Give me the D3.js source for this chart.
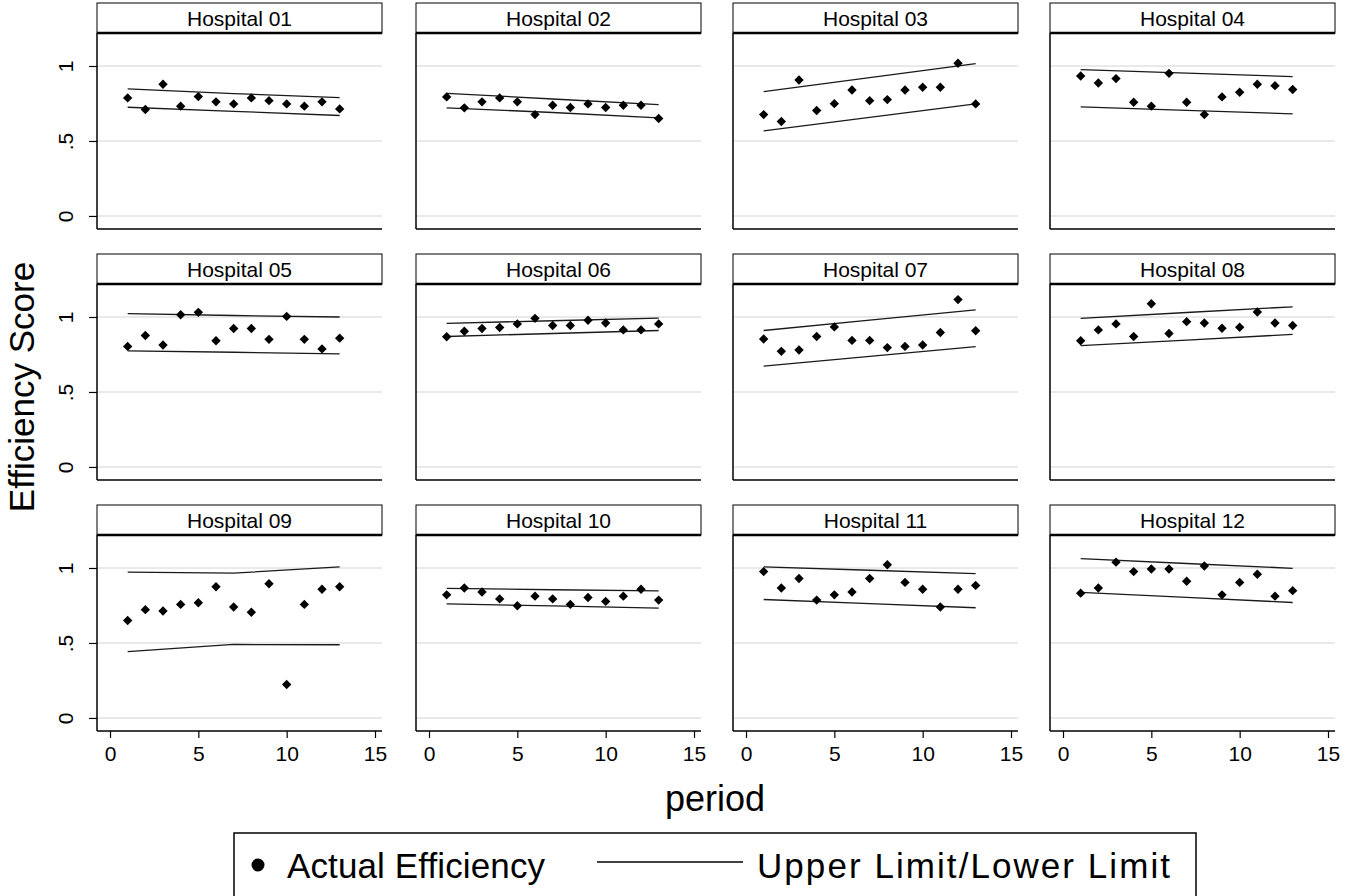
<!DOCTYPE html>
<html>
<head>
<meta charset="utf-8">
<script src="https://cdn.jsdelivr.net/npm/d3@7"></script>
<style>
  body { margin: 0; background: #fff; }
  svg { font-family: 'Liberation Sans', Arial, sans-serif; display: block; }
</style>
</head>
<body>
<svg></svg>
<script>
// hospitals in the order of the facets
let hospitals = ['Hospital 01', 'Hospital 02', 'Hospital 03', 'Hospital 04',
                 'Hospital 05', 'Hospital 06', 'Hospital 07', 'Hospital 08',
                 'Hospital 09', 'Hospital 10', 'Hospital 11', 'Hospital 12'];

let periods = [1, 2, 3, 4, 5, 6, 7, 8, 9, 10, 11, 12, 13];

// actual efficiency, one row per hospital
let efficiency = [
  [0.787, 0.710, 0.878, 0.732, 0.796, 0.761, 0.747, 0.787, 0.769, 0.747, 0.732, 0.761, 0.714],
  [0.794, 0.721, 0.761, 0.787, 0.761, 0.676, 0.738, 0.723, 0.747, 0.723, 0.738, 0.738, 0.650],
  [0.676, 0.630, 0.907, 0.703, 0.749, 0.840, 0.769, 0.776, 0.840, 0.858, 0.858, 1.018, 0.747],
  [0.933, 0.887, 0.916, 0.758, 0.732, 0.951, 0.758, 0.676, 0.794, 0.825, 0.878, 0.869, 0.843],
  [0.804, 0.877, 0.813, 1.015, 1.031, 0.842, 0.923, 0.923, 0.851, 1.004, 0.851, 0.787, 0.859],
  [0.868, 0.905, 0.923, 0.930, 0.954, 0.991, 0.943, 0.943, 0.978, 0.960, 0.914, 0.914, 0.954],
  [0.853, 0.771, 0.780, 0.870, 0.934, 0.844, 0.844, 0.796, 0.804, 0.813, 0.897, 1.116, 0.908],
  [0.842, 0.914, 0.954, 0.870, 1.088, 0.890, 0.969, 0.960, 0.925, 0.932, 1.033, 0.960, 0.943],
  [0.650, 0.722, 0.713, 0.757, 0.768, 0.875, 0.740, 0.705, 0.895, 0.223, 0.757, 0.858, 0.875],
  [0.821, 0.867, 0.840, 0.794, 0.748, 0.812, 0.794, 0.757, 0.803, 0.777, 0.812, 0.858, 0.786],
  [0.976, 0.867, 0.930, 0.786, 0.821, 0.840, 0.930, 1.022, 0.904, 0.858, 0.740, 0.858, 0.884],
  [0.832, 0.867, 1.039, 0.976, 0.993, 0.993, 0.912, 1.013, 0.821, 0.904, 0.958, 0.812, 0.849]
];

// control limits read at periods 1, 7 and 13
let limitPeriods = [1, 7, 13];
let upperLimit = [
  [0.847, 0.816, 0.789], [0.818, 0.780, 0.743], [0.829, 0.922, 1.016], [0.976, 0.952, 0.929],
  [1.022, 1.010, 1.000], [0.958, 0.975, 0.993], [0.910, 0.979, 1.048], [0.991, 1.030, 1.068],
  [0.972, 0.966, 1.007], [0.864, 0.855, 0.847], [1.007, 0.985, 0.963], [1.063, 1.030, 0.998]
];
let lowerLimit = [
  [0.725, 0.698, 0.670], [0.721, 0.690, 0.654], [0.568, 0.657, 0.747], [0.727, 0.704, 0.681],
  [0.774, 0.765, 0.754], [0.870, 0.890, 0.910], [0.673, 0.738, 0.802], [0.809, 0.846, 0.884],
  [0.442, 0.490, 0.488], [0.761, 0.747, 0.733], [0.790, 0.763, 0.735], [0.838, 0.804, 0.770]
];

let xTicks = [0, 5, 10, 15];
let yTicks = [0, 0.5, 1];
let yTickLabels = ['0', '.5', '1'];

let width = 1357;
let height = 896;
let panelW = 285;
let headerH = 30;
let plotH = 196;
let colX = [97, 416, 733, 1050];
let rowY = [3, 254, 505];

let svg = d3.select('svg')
            .attr('width', width)
            .attr('height', height);

svg.append('rect')
    .attr('width', width)
    .attr('height', height)
    .attr('fill', '#fff');

let xScale = d3.scaleLinear()
                .domain([-0.736, 15.396])
                .range([0, panelW]);

let yScale = d3.scaleLinear()
                .domain([-0.087, 1.22])
                .range([plotH, 0]);

let diamond = d3.symbol().type(d3.symbolSquare).size(44);

let limitLine = d3.line()
                  .x((d, i) => xScale(limitPeriods[i]))
                  .y(d => yScale(d));

hospitals.forEach((name, h) => {
  let col = h % 4;
  let row = Math.floor(h / 4);
  let g = svg.append('g')
             .attr('transform', `translate(${colX[col]},${rowY[row]})`);

  // strip header
  g.append('rect')
      .attr('x', 0)
      .attr('y', 0)
      .attr('width', panelW)
      .attr('height', headerH)
      .attr('fill', '#fff')
      .attr('stroke', '#000')
      .attr('stroke-width', 1);

  g.append('line')
      .attr('x1', 0)
      .attr('x2', panelW)
      .attr('y1', headerH)
      .attr('y2', headerH)
      .attr('stroke', '#000')
      .attr('stroke-width', 2.5);

  g.append('text')
      .attr('x', panelW / 2)
      .attr('y', 23)
      .attr('text-anchor', 'middle')
      .style('font-size', '21px')
      .text(name);

  let plot = g.append('g')
              .attr('transform', `translate(0,${headerH})`);

  plot.selectAll('.grid')
      .data(yTicks)
      .enter()
      .append('line')
      .attr('class', 'grid')
      .attr('x1', 0)
      .attr('x2', panelW)
      .attr('y1', d => yScale(d))
      .attr('y2', d => yScale(d))
      .attr('stroke', '#e2e2e2')
      .attr('stroke-width', 1.5);

  // left and bottom axis lines
  let yAxis = d3.axisLeft(yScale)
                .tickValues(col === 0 ? yTicks : [])
                .tickSize(8)
                .tickFormat((d, i) => yTickLabels[i]);

  let yAxisG = plot.append('g').call(yAxis);
  yAxisG.select('.domain')
        .attr('d', `M0,0V${plotH}`)
        .attr('stroke-width', 1.5);
  yAxisG.selectAll('.tick line').attr('stroke-width', 1.2);
  yAxisG.selectAll('.tick text')
        .attr('x', 0)
        .attr('dy', 0)
        .attr('transform', 'translate(-24,0) rotate(-90)')
        .attr('text-anchor', 'middle')
        .style('font-size', '21px')
        .style('font-family', "'Liberation Sans', Arial, sans-serif");

  let xAxis = d3.axisBottom(xScale)
                .tickValues(row === 2 ? xTicks : [])
                .tickSize(7)
                .tickPadding(8);

  let xAxisG = plot.append('g')
                   .attr('transform', `translate(0,${plotH})`)
                   .call(xAxis);
  xAxisG.select('.domain')
        .attr('d', `M0,0H${panelW}`)
        .attr('stroke-width', 1.5);
  xAxisG.selectAll('.tick line').attr('stroke-width', 1.2);
  xAxisG.selectAll('.tick text')
        .style('font-size', '21px')
        .style('font-family', "'Liberation Sans', Arial, sans-serif");

  // limits
  [upperLimit[h], lowerLimit[h]].forEach(vals => {
    plot.append('path')
        .datum(vals)
        .attr('d', limitLine)
        .attr('fill', 'none')
        .attr('stroke', '#1a1a1a')
        .attr('stroke-width', 1.3);
  });

  plot.selectAll('.dot')
      .data(efficiency[h])
      .enter()
      .append('path')
      .attr('class', 'dot')
      .attr('d', diamond)
      .attr('transform', (d, i) => `translate(${xScale(periods[i])},${yScale(d)}) rotate(45)`)
      .attr('fill', '#000');
});

// axis titles
svg.append('text')
    .attr('transform', 'translate(34,387) rotate(-90)')
    .attr('text-anchor', 'middle')
    .style('font-size', '35px')
    .text('Efficiency Score');

svg.append('text')
    .attr('x', 715)
    .attr('y', 811)
    .attr('text-anchor', 'middle')
    .style('font-size', '36px')
    .text('period');

// legend
let legend = svg.append('g');

legend.append('rect')
    .attr('x', 234)
    .attr('y', 833)
    .attr('width', 962)
    .attr('height', 90)
    .attr('fill', '#fff')
    .attr('stroke', '#000')
    .attr('stroke-width', 1.5);

legend.append('circle')
    .attr('cx', 258)
    .attr('cy', 865)
    .attr('r', 6.5)
    .attr('fill', '#000');

legend.append('text')
    .attr('x', 287)
    .attr('y', 878)
    .attr('textLength', 258)
    .attr('lengthAdjust', 'spacing')
    .style('font-size', '35px')
    .text('Actual Efficiency');

legend.append('line')
    .attr('x1', 597)
    .attr('x2', 743)
    .attr('y1', 862)
    .attr('y2', 862)
    .attr('stroke', '#000')
    .attr('stroke-width', 1.5);

legend.append('text')
    .attr('x', 757)
    .attr('y', 878)
    .attr('textLength', 413)
    .attr('lengthAdjust', 'spacing')
    .style('font-size', '35px')
    .text('Upper Limit/Lower Limit');
</script>
</body>
</html>
